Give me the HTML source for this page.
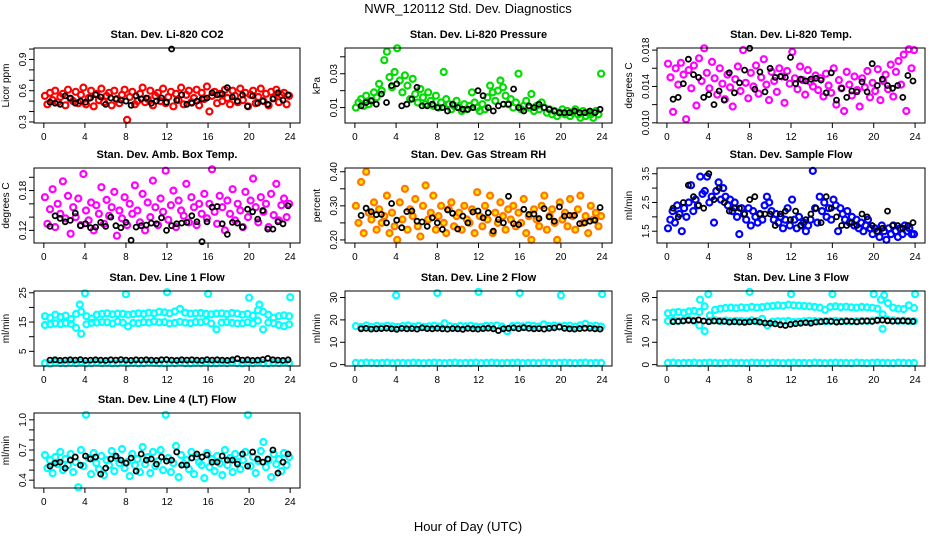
<!DOCTYPE html>
<html><head><meta charset="utf-8"><style>
html,body{margin:0;padding:0;background:#fff;}
svg{display:block;font-family:"Liberation Sans",Arial,sans-serif;}
</style></head><body>
<svg id="chart" width="936" height="540" viewBox="0 0 936 540">
<text x="468" y="13" text-anchor="middle" font-size="13">NWR_120112 Std. Dev. Diagnostics</text>
<text x="468" y="531" text-anchor="middle" font-size="13">Hour of Day (UTC)</text>
</svg>
<script>
// ---- data ----
const hourTicks = [0,4,8,12,16,20,24];
const co2Red = [0.55,0.47,0.58,0.51,0.60,0.49,0.54,0.57,0.46,0.61,0.52,0.50,0.59,0.48,0.56,0.63,0.47,0.53,0.60,0.45,0.57,0.51,0.62,0.49,0.55,0.58,0.46,0.60,0.52,0.48,0.56,0.61,0.32,0.54,0.59,0.47,0.50,0.57,0.63,0.49,0.52,0.60,0.46,0.55,0.58,0.50,0.62,0.48,0.54,0.59,0.45,0.57,0.51,0.63,0.47,0.56,0.60,0.49,0.53,0.61,0.46,0.58,0.52,0.64,0.40,0.55,0.59,0.48,0.57,0.50,0.61,0.53,0.47,0.60,0.55,0.49,0.62,0.51,0.58,0.45,0.56,0.60,0.48,0.54,0.62,0.50,0.57,0.46,0.59,0.53,0.61,0.49,0.56,0.58,0.47,0.55];
const co2Black = [0.49,0.48,0.47,0.55,0.53,0.48,0.50,0.49,0.53,0.56,0.54,0.47,0.53,0.52,0.51,0.50,0.46,0.55,0.52,0.53,0.48,0.50,0.53,0.49,1.00,0.51,0.56,0.47,0.48,0.50,0.52,0.53,0.58,0.56,0.57,0.63,0.54,0.50,0.56,0.45,0.55,0.48,0.50,0.47,0.52,0.58,0.51,0.56];
const presGreen = [0.010,0.013,0.015,0.011,0.017,0.012,0.014,0.019,0.016,0.024,0.020,0.038,0.043,0.028,0.022,0.031,0.045,0.026,0.019,0.029,0.023,0.015,0.027,0.018,0.013,0.021,0.016,0.012,0.019,0.014,0.011,0.017,0.010,0.013,0.031,0.015,0.012,0.009,0.011,0.014,0.010,0.008,0.012,0.009,0.011,0.019,0.013,0.010,0.008,0.012,0.009,0.016,0.023,0.019,0.014,0.020,0.026,0.022,0.017,0.012,0.015,0.010,0.013,0.030,0.009,0.011,0.014,0.010,0.018,0.008,0.011,0.009,0.013,0.010,0.007,0.009,0.006,0.008,0.005,0.007,0.009,0.006,0.008,0.005,0.007,0.009,0.006,0.004,0.008,0.005,0.007,0.006,0.004,0.008,0.006,0.030];
const presBlack = [0.011,0.013,0.014,0.012,0.018,0.013,0.023,0.024,0.011,0.012,0.015,0.022,0.011,0.011,0.012,0.010,0.010,0.008,0.012,0.010,0.009,0.009,0.010,0.020,0.017,0.010,0.008,0.011,0.012,0.012,0.021,0.010,0.008,0.011,0.010,0.012,0.010,0.009,0.008,0.007,0.007,0.007,0.008,0.007,0.007,0.008,0.007,0.009];
const tempMag = [0.0165,0.0150,0.0112,0.0160,0.0142,0.0166,0.0153,0.0104,0.0158,0.0138,0.0163,0.0119,0.0171,0.0146,0.0182,0.0155,0.0138,0.0167,0.0149,0.0131,0.0160,0.0143,0.0126,0.0153,0.0139,0.0118,0.0148,0.0162,0.0135,0.0180,0.0144,0.0127,0.0155,0.0140,0.0163,0.0132,0.0150,0.0170,0.0142,0.0125,0.0156,0.0146,0.0134,0.0160,0.0151,0.0122,0.0157,0.0143,0.0178,0.0149,0.0137,0.0162,0.0147,0.0131,0.0158,0.0145,0.0140,0.0152,0.0136,0.0149,0.0129,0.0154,0.0141,0.0133,0.0160,0.0120,0.0147,0.0138,0.0113,0.0156,0.0142,0.0130,0.0151,0.0136,0.0118,0.0149,0.0139,0.0157,0.0128,0.0144,0.0135,0.0159,0.0125,0.0146,0.0153,0.0137,0.0164,0.0129,0.0156,0.0168,0.0142,0.0175,0.0113,0.0181,0.0160,0.0180];
const tempBlack = [0.0126,0.0128,0.0143,0.0170,0.0153,0.0150,0.0128,0.0131,0.0120,0.0135,0.0125,0.0155,0.0133,0.0144,0.0158,0.0182,0.0137,0.0156,0.0134,0.0160,0.0150,0.0151,0.0150,0.0172,0.0143,0.0148,0.0146,0.0148,0.0149,0.0147,0.0133,0.0155,0.0125,0.0138,0.0128,0.0135,0.0134,0.0145,0.0134,0.0165,0.0141,0.0148,0.0141,0.0138,0.0141,0.0128,0.0152,0.0146];
const boxMag = [0.170,0.130,0.152,0.182,0.125,0.160,0.145,0.194,0.138,0.172,0.115,0.155,0.140,0.168,0.128,0.205,0.150,0.135,0.162,0.120,0.158,0.145,0.185,0.130,0.166,0.142,0.155,0.178,0.112,0.150,0.138,0.170,0.128,0.160,0.145,0.188,0.150,0.132,0.175,0.120,0.162,0.140,0.195,0.155,0.128,0.168,0.148,0.210,0.136,0.158,0.180,0.125,0.165,0.150,0.142,0.190,0.132,0.170,0.155,0.128,0.160,0.145,0.175,0.138,0.160,0.212,0.148,0.130,0.172,0.155,0.120,0.165,0.145,0.182,0.135,0.160,0.150,0.125,0.178,0.140,0.165,0.198,0.155,0.132,0.170,0.148,0.160,0.125,0.175,0.143,0.190,0.135,0.158,0.168,0.140,0.160];
const boxBlack = [0.126,0.142,0.138,0.133,0.135,0.146,0.127,0.130,0.124,0.125,0.132,0.126,0.140,0.127,0.124,0.132,0.105,0.125,0.127,0.128,0.131,0.130,0.139,0.120,0.127,0.130,0.131,0.132,0.142,0.133,0.103,0.133,0.155,0.156,0.130,0.114,0.132,0.131,0.125,0.152,0.148,0.137,0.150,0.122,0.122,0.133,0.130,0.157];
const rhOrange = [0.30,0.25,0.37,0.22,0.40,0.28,0.26,0.31,0.23,0.29,0.25,0.27,0.33,0.22,0.28,0.24,0.20,0.31,0.26,0.35,0.23,0.29,0.27,0.32,0.24,0.21,0.30,0.36,0.26,0.28,0.33,0.23,0.27,0.30,0.25,0.22,0.29,0.31,0.24,0.27,0.28,0.23,0.30,0.26,0.25,0.29,0.22,0.34,0.27,0.24,0.30,0.26,0.33,0.22,0.28,0.25,0.31,0.27,0.23,0.29,0.26,0.30,0.24,0.28,0.25,0.32,0.22,0.27,0.20,0.29,0.26,0.24,0.30,0.33,0.23,0.27,0.29,0.25,0.20,0.31,0.26,0.28,0.24,0.32,0.27,0.23,0.29,0.33,0.25,0.27,0.22,0.30,0.26,0.28,0.24,0.27];
const rhBlack = [0.272,0.293,0.283,0.274,0.275,0.250,0.307,0.258,0.236,0.283,0.285,0.255,0.253,0.240,0.265,0.250,0.231,0.288,0.278,0.232,0.270,0.250,0.282,0.285,0.265,0.280,0.226,0.260,0.250,0.328,0.248,0.245,0.290,0.275,0.276,0.263,0.292,0.268,0.255,0.297,0.270,0.272,0.272,0.248,0.250,0.255,0.258,0.295];
const flowBlue = [1.6,1.9,2.2,1.8,2.4,2.1,1.5,2.3,2.0,2.5,3.1,2.2,2.6,2.4,3.4,2.8,2.9,3.4,2.5,2.7,1.8,2.9,3.2,2.6,3.0,2.7,2.4,2.6,2.2,2.5,2.0,1.4,2.3,2.1,1.9,2.3,1.7,2.2,2.0,1.8,2.1,1.9,2.4,2.7,2.5,2.2,1.9,2.1,1.8,2.0,1.6,1.9,2.3,1.7,2.6,1.9,1.6,2.0,1.7,1.8,1.5,1.7,1.9,3.6,2.3,1.8,2.7,2.2,2.5,2.0,2.3,1.9,2.6,2.4,1.5,2.3,2.1,1.9,2.2,1.8,2.0,1.7,1.9,1.6,1.8,1.5,1.7,1.9,1.6,1.4,1.6,1.5,1.3,1.7,1.5,1.2,1.6,1.4,1.7,1.5,1.3,1.6,1.4,1.7,1.5,1.6,1.4,1.4];
const flowBlack = [2.3,2.0,2.5,3.1,2.7,2.4,2.3,3.5,2.6,3.0,2.5,2.2,2.3,2.3,2.1,2.6,2.7,2.1,2.1,2.1,1.7,2.1,2.2,1.9,2.2,1.7,1.9,2.1,2.3,1.8,2.7,2.3,2.0,1.7,1.7,1.8,1.7,2.1,2.0,1.7,1.5,1.6,2.2,1.7,1.7,1.6,1.7,1.8];
const line1Upper = [17.0,16.5,17.5,16.8,17.2,16.0,17.8,18.5,17.0,16.2,17.5,17.8,18.0,17.6,17.9,17.8,17.5,17.7,18.0,17.8,18.2,18.0,18.5,18.3,18.0,18.6,19.5,18.2,17.9,18.0,18.1,17.8,17.6,17.9,18.0,17.7,18.1,17.9,17.5,17.8,17.2,19.0,18.5,17.5,16.5,17.0,17.3,17.0];
const line1Lower = [14.0,14.2,14.5,14.3,14.6,14.4,13.0,11.0,14.2,14.7,14.8,15.0,14.9,14.5,15.2,14.8,13.5,14.7,14.6,15.0,14.8,15.2,14.9,15.0,14.5,14.7,15.1,14.8,14.6,15.0,14.9,15.3,14.5,12.5,14.8,15.0,14.7,14.5,14.6,14.9,14.5,15.5,12.5,14.8,14.6,14.0,13.6,14.2];
const line1Low = [1.0,0.8,1.2,1.0,0.9,1.1,1.0,1.3,0.9,1.0,1.2,1.0,1.1,0.9,1.0,1.2,1.0,1.1,0.9,1.0,1.2,1.1,1.0,0.9,1.1,1.0,1.2,1.0,0.9,1.1,1.0,1.2,1.0,0.9,1.1,1.0,1.2,1.0,0.9,1.1,1.0,1.2,1.0,0.9,1.1,1.0,1.2,1.0];
const line1SpikeHours = [3.5,4,8,12,16,20,21,24];
const line1SpikeVals = [21,24.8,24.5,25.2,24.6,23.3,21,23.5];
const line1Black = [2.0,2.1,1.9,2.0,2.1,2.0,2.2,1.9,2.0,2.1,2.0,1.9,2.1,2.0,2.2,2.0,1.9,2.1,2.0,2.1,2.0,1.9,2.1,2.2,2.0,1.9,2.1,2.0,2.1,2.0,1.9,2.2,2.0,2.1,2.0,1.9,2.1,2.5,2.0,2.1,1.9,2.0,2.2,2.6,2.1,2.0,1.9,2.1];
const line2Upper = [17.2,16.8,17.5,16.9,17.3,17.0,17.4,17.1,16.8,17.2,17.5,17.0,17.3,16.9,17.1,17.4,17.0,18.5,17.2,16.8,17.3,17.1,17.4,17.0,16.9,17.3,17.2,17.5,17.0,15.0,17.2,17.4,17.1,17.6,17.3,17.0,18.0,17.2,17.5,17.1,17.3,17.4,17.0,17.6,18.2,17.2,17.4,17.0];
const line2Low = [0.8,0.7,0.9,0.8,0.7,0.8,0.9,0.7,0.8,0.8,0.7,0.9,0.8,0.7,0.8,0.9,0.8,0.7,0.8,0.9,0.7,0.8,0.8,0.9,0.7,0.8,0.9,0.8,0.7,0.8,0.8,0.9,0.7,0.8,0.8,0.7,0.9,0.8,0.7,0.8,0.9,0.8,0.7,0.8,0.9,0.7,0.8,0.8];
const line2SpikeHours = [4,8,12,16,20,24];
const line2SpikeVals = [31,32,32.5,32,31,31.5];
const line2Black = [16,16.2,15.9,16,16.1,16.3,16,15.8,16.2,16,16.1,15.9,16.4,16.1,16,16.2,16,15.9,16.1,16,15.8,16.2,16.0,15.9,16.1,16.3,16,15.2,16,16.2,16.4,16.1,16.5,16.2,16,16.1,15.9,16.2,16.4,16.8,16.2,16,15.9,16.1,16.3,16.2,16,15.9];
const line3Upper = [23.0,23.3,23.5,23.2,23.8,24.0,23.5,26.0,22.0,24.5,25.0,25.3,25.5,25.2,25.6,25.4,25.8,25.5,25.7,26.0,26.2,26.5,26.3,26.8,26.5,26.4,26.2,26.0,25.8,25.5,24.5,25.8,26.0,25.7,25.9,25.6,25.5,25.8,25.6,25.4,25.0,22.5,27.5,25.5,25.0,24.8,26.5,25.3];
const line3Mid = [19.5,19.8,19.6,19.9,20.0,19.7,17.5,15.0,19.6,19.8,19.5,19.7,19.4,19.6,19.5,19.3,19.8,19.5,20.5,17.5,19.2,19.4,19.3,19.5,19.0,19.2,19.4,19.6,19.5,19.3,19.4,19.5,19.6,19.4,19.5,19.3,19.4,19.6,19.5,19.7,19.8,16.0,20.0,19.8,19.6,19.7,19.5,19.4];
const line3Low = [0.8,0.9,0.7,0.8,0.8,0.9,0.7,0.8,0.9,0.8,0.7,0.8,0.9,0.8,0.8,0.7,0.9,0.8,0.8,0.7,0.9,0.8,0.7,0.8,0.9,0.8,0.8,0.7,0.9,0.8,0.7,0.8,0.9,0.8,0.8,0.7,0.9,0.8,0.7,0.8,0.9,0.8,0.8,0.7,0.9,0.8,0.7,0.8];
const line3SpikeHours = [3.2,4,8,12,16,20,20.7,21,24];
const line3SpikeVals = [29,31.5,32.5,31.5,31.5,31.5,29,31,31.5];
const line3Black = [19.2,19.3,19.5,19.8,19.6,20.0,19.5,19.2,19.5,19.4,19.3,19.0,19.2,19.0,18.9,19.1,19.3,19.0,18.6,18.5,18.2,17.8,17.5,18.0,18.3,18.5,18.8,18.5,19.0,19.2,19.4,19.3,19.0,19.2,19.4,19.3,19.1,19.4,19.5,19.3,19.8,19.9,19.6,19.4,19.5,19.6,19.4,19.3];
const line4Cyan = [0.65,0.52,0.60,0.47,0.63,0.56,0.68,0.50,0.61,0.55,0.66,0.48,0.58,0.33,0.70,0.54,1.05,0.62,0.46,0.67,0.57,0.51,0.64,0.45,0.60,0.55,0.69,0.49,0.62,0.57,0.71,0.52,0.58,0.44,0.66,0.55,0.61,0.48,0.73,0.56,0.63,0.47,0.68,0.54,0.59,0.70,0.50,1.05,0.62,0.48,0.57,0.74,0.43,0.65,0.56,0.60,0.51,0.68,0.46,0.63,0.58,0.55,0.42,0.67,0.53,0.61,0.49,0.64,0.57,0.45,0.70,0.55,0.62,0.48,0.66,0.58,0.51,0.60,0.68,1.05,0.54,0.63,0.47,0.59,0.69,0.78,0.53,0.60,0.43,0.66,0.56,0.61,0.49,0.67,0.55,0.63];
const line4Black = [0.54,0.57,0.58,0.52,0.60,0.63,0.55,0.64,0.61,0.63,0.46,0.52,0.61,0.64,0.60,0.57,0.62,0.49,0.66,0.60,0.61,0.56,0.63,0.59,0.60,0.68,0.55,0.55,0.62,0.66,0.63,0.65,0.58,0.58,0.64,0.60,0.60,0.56,0.66,0.54,0.68,0.61,0.58,0.61,0.70,0.47,0.58,0.66];

// ---- layout ----
const colLeft = [34, 345, 657], colW = [266, 267, 268];
const rowTop = [48, 168, 291, 413], boxH = 75;
const panels = [
 {name:'co2',title:'Stan. Dev. Li-820 CO2',yl:'Licor ppm',c:0,r:0,ymin:0.29,ymax:1.01,ticks:[0.3,0.4,0.5,0.6,0.7,0.8,0.9,1.0],labels:[0.3,0.6,0.9],
  series:[{d:co2Red,col:'#ff0000'},{d:co2Black,col:'#000',k:1}]},
 {name:'pressure',title:'Stan. Dev. Li-820 Pressure',yl:'kPa',c:1,r:0,ymin:0.0009,ymax:0.0452,ticks:[0.01,0.02,0.03,0.04],labels:[0.01,0.03],
  series:[{d:presGreen,col:'#00dd00'},{d:presBlack,col:'#000',k:1}]},
 {name:'li820-temp',title:'Stan. Dev. Li-820 Temp.',yl:'degrees C',c:2,r:0,ymin:0.00998,ymax:0.01823,ticks:[0.010,0.012,0.014,0.016,0.018],labels:['0.010','0.014','0.018'],
  series:[{d:tempMag,col:'#ff00ff'},{d:tempBlack,col:'#000',k:1}]},
 {name:'amb-box-temp',title:'Stan. Dev. Amb. Box Temp.',yl:'degrees C',c:0,r:1,ymin:0.101,ymax:0.214,ticks:[0.12,0.14,0.16,0.18,0.20],labels:['0.12','0.18'],
  series:[{d:boxMag,col:'#ff00ff'},{d:boxBlack,col:'#000',k:1}]},
 {name:'gas-stream-rh',title:'Stan. Dev. Gas Stream RH',yl:'percent',c:1,r:1,ymin:0.191,ymax:0.411,ticks:[0.20,0.25,0.30,0.35,0.40],labels:['0.20','0.30','0.40'],
  series:[{d:rhOrange,col:'#ff7700',fill:'#ffe600'},{d:rhBlack,col:'#000',k:1}]},
 {name:'sample-flow',title:'Stan. Dev. Sample Flow',yl:'ml/min',c:2,r:1,ymin:1.09,ymax:3.70,ticks:[1.5,2.0,2.5,3.0,3.5],labels:['1.5','2.5','3.5'],
  series:[{d:flowBlue,col:'#0000ff'},{d:flowBlack,col:'#000',k:1}]},
 {name:'line1-flow',title:'Stan. Dev. Line 1 Flow',yl:'ml/min',c:0,r:2,ymin:0,ymax:25.6,ticks:[5,10,15,20,25],labels:[5,15,25],
  series:[{d:line1Upper,col:'#00ffff'},{d:line1Lower,col:'#00ffff'},{d:line1Low,col:'#00ffff'},{h:line1SpikeHours,d:line1SpikeVals,col:'#00ffff'},{d:line1Black,col:'#000',k:1}]},
 {name:'line2-flow',title:'Stan. Dev. Line 2 Flow',yl:'ml/min',c:1,r:2,ymin:-0.6,ymax:32.9,ticks:[0,10,20,30],labels:[0,10,20,30],
  series:[{d:line2Upper,col:'#00ffff'},{d:line2Low,col:'#00ffff'},{h:line2SpikeHours,d:line2SpikeVals,col:'#00ffff'},{d:line2Black,col:'#000',k:1}]},
 {name:'line3-flow',title:'Stan. Dev. Line 3 Flow',yl:'ml/min',c:2,r:2,ymin:-0.6,ymax:32.9,ticks:[0,10,20,30],labels:[0,10,20,30],
  series:[{d:line3Upper,col:'#00ffff'},{d:line3Mid,col:'#00ffff'},{d:line3Low,col:'#00ffff'},{h:line3SpikeHours,d:line3SpikeVals,col:'#00ffff'},{d:line3Black,col:'#000',k:1}]},
 {name:'line4-flow',title:'Stan. Dev. Line 4 (LT) Flow',yl:'ml/min',c:0,r:3,ymin:0.322,ymax:1.068,ticks:[0.4,0.5,0.6,0.7,0.8,0.9,1.0],labels:['0.4','0.7','1.0'],
  series:[{d:line4Cyan,col:'#00ffff'},{d:line4Black,col:'#000',k:1}]}
];

const svg = document.getElementById('chart');
const NS = 'http://www.w3.org/2000/svg';
function mk(tag, attrs, parent){
  const e = document.createElementNS(NS, tag);
  for (const a in attrs) e.setAttribute(a, attrs[a]);
  (parent||svg).appendChild(e);
  return e;
}

panels.forEach(p => {
  const L = colLeft[p.c], W = colW[p.c], T = rowTop[p.r], B = T + boxH;
  const pad = W * 0.037;
  const xs = h => L + pad + (h / 24) * (W - 2 * pad);
  const ys = v => B - (v - p.ymin) / (p.ymax - p.ymin) * boxH;
  const g = mk('g', {});
  
  

  const t = mk('text', {x: L + W / 2, y: T - 10, 'text-anchor': 'middle', 'font-size': 11, 'font-weight': 'bold'}, g);
  t.textContent = p.title;
  
  

  const yl = mk('text', {x: 0, y: 0, transform: `translate(${L - 25},${T + boxH / 2}) rotate(-90)`, 'text-anchor': 'middle', 'font-size': 10}, g);
  yl.textContent = p.yl;
  
  

  const pts = mk('g', {fill: 'none'}, g);
  
  
  p.series.forEach(s => {
    const n = s.d.length;
    s.d.forEach((v, i) => {
      let h;
      if (s.h) h = s.h[i];
      else if (s.k) h = 0.6 + i * 23.2 / (n - 1);
      else h = 0.1 + i * 23.8 / (n - 1);
      const c = mk('circle', {cx: xs(h).toFixed(1), cy: ys(v).toFixed(1), r: s.k ? 2.5 : 3.0, stroke: s.col, 'stroke-width': s.k ? 1.8 : 2.2, fill: s.fill || 'none'}, pts);
      
      
    });
  });

  const box = mk('rect', {x: L, y: T, width: W, height: boxH, fill: 'none', stroke: '#000', 'stroke-width': 1}, g);
  
  

  const xa = mk('g', {}, g);
  
  
  hourTicks.forEach(h => {
    mk('line', {x1: xs(h), x2: xs(h), y1: B, y2: B + 5, stroke: '#000'}, xa);
    const tl = mk('text', {x: xs(h), y: B + 17, 'text-anchor': 'middle', 'font-size': 10}, xa);
    tl.textContent = h;
    
    
  });
  const ya = mk('g', {}, g);
  
  
  p.ticks.forEach(v => {
    mk('line', {x1: L - 5, x2: L, y1: ys(v), y2: ys(v), stroke: '#000'}, ya);
  });
  p.labels.forEach(v => {
    const tl = mk('text', {x: 0, y: 0, transform: `translate(${L - 8},${ys(+v)}) rotate(-90)`, 'text-anchor': 'middle', 'font-size': 10}, ya);
    tl.textContent = v;
    
    
  });
});
</script>
</body></html>
